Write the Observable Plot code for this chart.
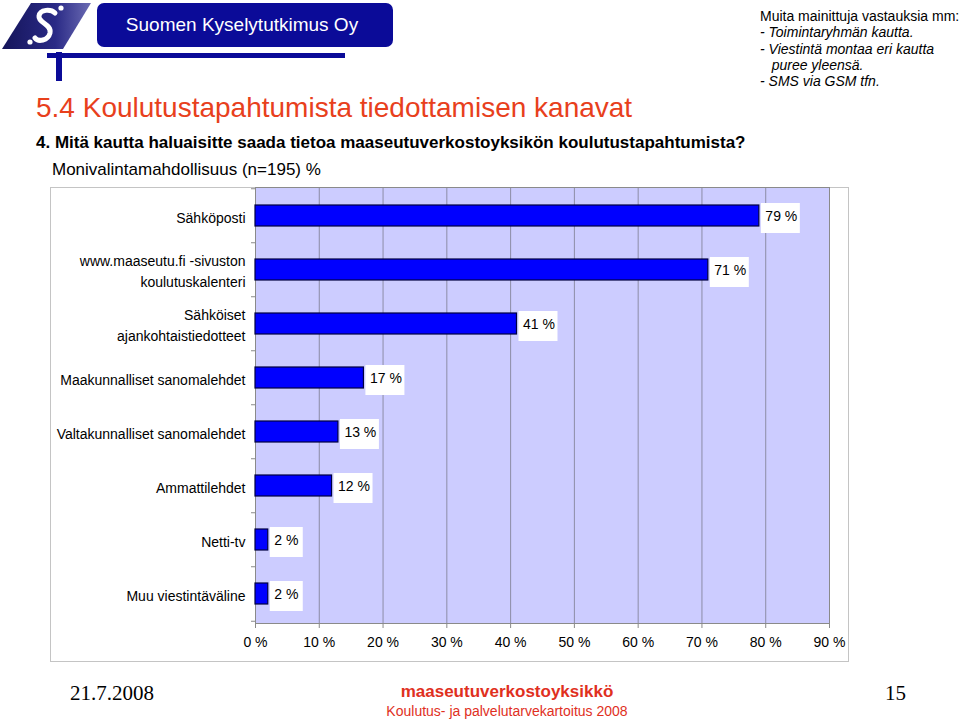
<!DOCTYPE html>
<html>
<head>
<meta charset="utf-8">
<script src="https://cdn.jsdelivr.net/npm/d3@7"></script>
<script src="https://cdn.jsdelivr.net/npm/@observablehq/plot@0.6"></script>
<style>
  body { margin: 0; background: #fff; font-family: "Liberation Sans", Arial, sans-serif; }
  #page { position: relative; width: 960px; height: 723px; overflow: hidden; background: #fff; }
  .abs { position: absolute; white-space: nowrap; }
  #box { position: absolute; left: 50px; top: 187px; width: 797px; height: 473px; border: 1px solid #c4c4c4; }
  #chart { position: absolute; left: 0; top: 0; }
  #chart svg { background: transparent; }
</style>
</head>
<body>
<div id="page">
  <div id="box"></div>
  <div id="chart"></div>

  <svg class="abs" style="left:0;top:0" width="400" height="90">
    <defs>
      <linearGradient id="lg" x1="0" y1="0" x2="1" y2="0">
        <stop offset="0" stop-color="#15155a"/>
        <stop offset="0.6" stop-color="#2a2a86"/>
        <stop offset="1" stop-color="#6c6cb4"/>
      </linearGradient>
    </defs>
    <polygon points="31,3 91,3 63,49 2,49" fill="url(#lg)"/>
    <path d="M55,13 C51,9 40,9 39,16 C38,23 52,24 50,33 C48,41 38,42 35,38" fill="none" stroke="#fff" stroke-width="5" stroke-linecap="round"/>
    <circle cx="61" cy="8" r="2.6" fill="#fff"/>
    <circle cx="30" cy="42" r="2.6" fill="#fff"/>
    <rect x="97" y="3" width="296" height="44" rx="7" fill="#0b0b98"/>
    <text x="242" y="31" fill="#fff" font-size="19" text-anchor="middle" font-family="Liberation Sans, Arial, sans-serif">Suomen Kyselytutkimus Oy</text>
    <rect x="47" y="53" width="298" height="5" fill="#0b0b98"/>
    <rect x="56" y="52" width="6" height="29" fill="#0b0b98"/>
  </svg>

  <div class="abs" style="left:760px;top:8px;font-size:14px;line-height:16.3px;color:#000">
    <div>Muita mainittuja vastauksia mm:</div>
    <div style="font-style:italic">- Toimintaryhmän kautta.</div>
    <div style="font-style:italic">- Viestintä montaa eri kautta</div>
    <div style="font-style:italic">&nbsp;&nbsp;&nbsp;puree yleensä.</div>
    <div style="font-style:italic">- SMS via GSM tfn.</div>
  </div>

  <div class="abs" style="left:36px;top:93px;font-size:28px;line-height:30px;color:#e8401c">5.4 Koulutustapahtumista tiedottamisen kanavat</div>
  <div class="abs" style="left:36px;top:133px;font-size:17px;line-height:20px;font-weight:bold;color:#000">4. Mitä kautta haluaisitte saada tietoa maaseutuverkostoyksikön koulutustapahtumista?</div>
  <div class="abs" style="left:52px;top:160px;font-size:17px;line-height:20px;color:#000">Monivalintamahdollisuus (n=195) %</div>

  <div class="abs" style="left:70px;top:680px;font-size:21px;line-height:26px;font-family:'Liberation Serif','Times New Roman',serif;color:#000">21.7.2008</div>
  <div class="abs" style="left:885px;top:680px;font-size:21px;line-height:26px;font-family:'Liberation Serif','Times New Roman',serif;color:#000">15</div>
  <div class="abs" style="left:307px;width:400px;text-align:center;top:682px;font-size:17px;line-height:20px;font-weight:bold;color:#e0301e">maaseutuverkostoyksikkö</div>
  <div class="abs" style="left:307px;width:400px;text-align:center;top:703px;font-size:14px;line-height:16px;color:#e0301e">Koulutus- ja palvelutarvekartoitus 2008</div>
</div>

<script>
// ---- data ----
const categories = [
  "Sähköposti",
  "www.maaseutu.fi -sivuston koulutuskalenteri",
  "Sähköiset ajankohtaistiedotteet",
  "Maakunnalliset sanomalehdet",
  "Valtakunnalliset sanomalehdet",
  "Ammattilehdet",
  "Netti-tv",
  "Muu viestintäväline"
];
const categoryLabels = [
  "Sähköposti",
  "www.maaseutu.fi -sivuston\nkoulutuskalenteri",
  "Sähköiset\najankohtaistiedotteet",
  "Maakunnalliset sanomalehdet",
  "Valtakunnalliset sanomalehdet",
  "Ammattilehdet",
  "Netti-tv",
  "Muu viestintäväline"
];
const values = [79, 71, 41, 17, 13, 12, 2, 2];
const valueLabels = ["79 %", "71 %", "41 %", "17 %", "13 %", "12 %", "2 %", "2 %"];
const xTicks = [0, 10, 20, 30, 40, 50, 60, 70, 80, 90];
const xTickLabels = ["0 %", "10 %", "20 %", "30 %", "40 %", "50 %", "60 %", "70 %", "80 %", "90 %"];

const data = categories.map((c, i) => ({ category: c, value: values[i], text: valueLabels[i] }));
const labelOf = new Map(categories.map((c, i) => [c, categoryLabels[i]]));
const tickLabelOf = new Map(xTicks.map((t, i) => [t, xTickLabels[i]]));

const halfStep = (623 - 187) / categories.length / 2;

const chart = Plot.plot({
  width: 960,
  height: 723,
  marginTop: 187,
  marginBottom: 100,
  marginLeft: 255,
  marginRight: 131,
  style: { background: "transparent", fontFamily: "Liberation Sans, Arial, sans-serif", fontSize: "14px", color: "#000" },
  x: { domain: [0, 90] },
  y: { domain: categories, paddingInner: 0.61, paddingOuter: 0.305 },
  marks: [
    Plot.frame({ fill: "#ccccff", stroke: null }),
    Plot.gridX(xTicks, { stroke: "#8c8ca6", strokeOpacity: 1, strokeWidth: 1 }),
    Plot.frame({ stroke: "#8a8a8a", strokeWidth: 1 }),
    Plot.barX(data, { x: "value", y: "category", fill: "#0000ff", stroke: "#000040", strokeWidth: 1.2 }),
    Plot.barX(data.filter(d => d.value >= 10), {
      x1: "value", x2: "value", y: "category", fill: "#ffffff",
      insetLeft: 2, insetRight: -41, insetTop: -2, insetBottom: -7
    }),
    Plot.barX(data.filter(d => d.value < 10), {
      x1: "value", x2: "value", y: "category", fill: "#ffffff",
      insetLeft: 2, insetRight: -35, insetTop: -2, insetBottom: -7
    }),
    Plot.text(data, { x: "value", y: "category", text: "text", dx: 6, dy: 1, textAnchor: "start", fontSize: 14, fill: "#000" }),
    Plot.axisX(xTicks, {
      tickFormat: d => tickLabelOf.get(d), tickSize: 5, tickPadding: 9,
      stroke: "#8a8a8a", fill: "#000", fontSize: 14, label: null
    }),
    Plot.axisY({
      tickFormat: d => labelOf.get(d), tickSize: 0, tickPadding: 10,
      fill: "#000", fontSize: 14, lineHeight: 1.5, label: null
    }),
    Plot.axisY({ text: null, tickSize: 4, dy: -halfStep, stroke: "#8a8a8a", label: null }),
    Plot.axisY([categories[categories.length - 1]], { text: null, tickSize: 4, dy: halfStep, stroke: "#8a8a8a", label: null })
  ]
});
document.getElementById("chart").appendChild(chart);
</script>
</body>
</html>
